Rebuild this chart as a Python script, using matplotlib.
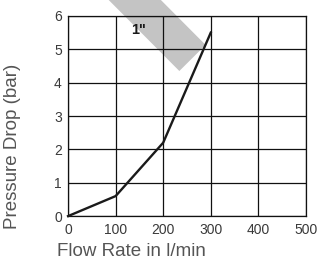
import numpy as np
import matplotlib
matplotlib.use("Agg")
import matplotlib.pyplot as plt

# pressure drop curve for the 1" size
flow = [0, 100, 200, 300]
pressure = [0, 0.6, 2.2, 5.5]

x_ticks = [0, 100, 200, 300, 400, 500]
y_ticks = [0, 1, 2, 3, 4, 5, 6]
size_label = '1"'

# grey marker band (data coords of its centre line)
band_x = [261.5, 51.5]
band_y = [4.74, 7.75]
band_halfwidth_px = 18.5

plt.rcParams['font.family'] = ['Liberation Sans', 'DejaVu Sans']

fig = plt.figure(figsize=(3.18, 2.61), dpi=100)
ax = fig.add_axes([0.214, 0.172, 0.748, 0.767])

ax.set_xlim(0, 500)
ax.set_ylim(0, 6)

# build the band as a filled polygon (a thick line gets its cap cut at the canvas edge)
p = ax.transData.transform(np.column_stack([band_x, band_y]))
d = p[1] - p[0]
n = np.array([-d[1], d[0]]) / np.hypot(*d) * band_halfwidth_px
corners = np.array([p[0] + n, p[1] + n, p[1] - n, p[0] - n])
corners = ax.transData.inverted().transform(corners)
ax.fill(corners[:, 0], corners[:, 1], color='#c4c4c4', lw=0, clip_on=False, zorder=1)

ax.set_xticks(x_ticks)
ax.set_yticks(y_ticks)
ax.grid(True, color='#111111', lw=0.9, zorder=2)
ax.set_axisbelow(False)
for s in ax.spines.values():
    s.set_color('#111111')
    s.set_linewidth(0.9)
    s.set_zorder(3)

ax.plot(flow, pressure, color='#1a1a1a', lw=1.7, zorder=4, clip_on=False)
ax.text(149, 5.57, size_label, fontsize=10.5, fontweight='bold',
        ha='center', va='center', color='#1a1a1a', zorder=5)

ax.tick_params(length=0, labelsize=10, labelcolor='#3a3a3a')
ax.tick_params(axis='x', pad=5)
ax.tick_params(axis='y', pad=4.5)

ax.set_xlabel('Flow Rate in l/min', fontsize=13.5, color='#555555', va='baseline')
ax.set_ylabel('Pressure Drop (bar)', fontsize=13.5, color='#555555', va='center')
ax.xaxis.set_label_coords(0.268, -0.2)
ax.yaxis.set_label_coords(-0.235, 0.35)

fig.savefig('out.png', dpi=100)
